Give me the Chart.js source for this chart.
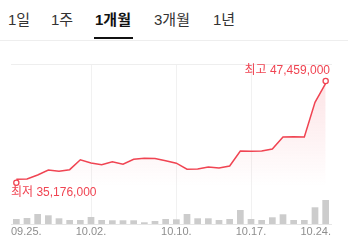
<!DOCTYPE html>
<html>
<head>
<meta charset="utf-8">
<script src="https://cdn.jsdelivr.net/npm/chart.js@4"></script>
<style>
    html, body { margin: 0; padding: 0; background: #fff; width: 348px; height: 242px; overflow: hidden;
        font-family: "Liberation Sans", "Noto Sans CJK KR", sans-serif; }
    #tabs { position: absolute; left: 0; top: 0; width: 348px; height: 40px; border-bottom: 1px solid #eeeeee; }
    .tab { position: absolute; top: 10px; font-size: 15px; line-height: 20px; color: #333; white-space: nowrap; }
    .tab.on { font-weight: bold; color: #111; }
    .tab.on:after { content: ''; position: absolute; left: -1px; right: -2px; top: 27px; height: 2px; background: #111; }
    #wrap { position: absolute; left: 0; top: 41px; width: 348px; height: 201px; }
</style>
</head>
<body>
<div id="tabs">
    <span class="tab" style="left:8px">1일</span>
    <span class="tab" style="left:51px">1주</span>
    <span class="tab on" style="left:95px">1개월</span>
    <span class="tab" style="left:154px">3개월</span>
    <span class="tab" style="left:213px">1년</span>
</div>
<div id="wrap"><canvas id="price_chart" width="348" height="201"></canvas></div>
<script>
    // daily data, 09.25. ~ 10.24.
    const dates = ['09.25.', '09.26.', '09.27.', '09.28.', '09.29.', '09.30.',
        '10.01.', '10.02.', '10.03.', '10.04.', '10.05.', '10.06.', '10.07.', '10.08.', '10.09.', '10.10.',
        '10.11.', '10.12.', '10.13.', '10.14.', '10.15.', '10.16.', '10.17.', '10.18.', '10.19.', '10.20.',
        '10.21.', '10.22.', '10.23.', '10.24.'];
    const closePrices = [35590000, 35620000, 36110000, 36710000, 36550000, 36750000,
        37950000, 37550000, 37350000, 37710000, 37400000, 38000000, 38120000, 38100000, 37830000, 37530000,
        36810000, 36840000, 37080000, 36950000, 37200000, 39000000, 38970000, 39000000, 39250000, 40700000,
        40730000, 40700000, 44890000, 47180000];
    const volumes = [50, 60, 100, 87, 57, 40,
        40, 70, 40, 37, 37, 37, 17, 30, 50, 47,
        100, 57, 57, 40, 50, 140, 50, 40, 67, 97,
        40, 40, 167, 240];
    const tickDates = ['09.25.', '10.02.', '10.10.', '10.17.', '10.24.'];

    // low / high markers
    const extremeNames = ['최저', '최고'];
    const extremeDates = ['09.25.', '10.24.'];
    const extremeValues = [35176000, 47459000];

    const priceMin = 30190000;
    const priceMax = 49510000;
    const volumeMax = 1600;

    const red = '#f04452';

    const labelPlugin = {
        id: 'labels',
        afterDraw(chart) {
            const ctx = chart.ctx;
            const area = chart.chartArea;
            const xs = chart.scales.x;
            ctx.save();
            ctx.textAlign = 'left';
            ctx.textBaseline = 'middle';

            // x tick labels, kept inside the plot
            ctx.font = '11px "Liberation Sans", "Noto Sans CJK KR"';
            ctx.fillStyle = '#8e8e8e';
            tickDates.forEach(d => {
                let px = xs.getPixelForValue(dates.indexOf(d));
                let w = ctx.measureText(d).width;
                let left = Math.min(Math.max(px - w / 2, area.left), area.right - w);
                ctx.fillText(d, left, area.bottom + 8);
            });

            // low / high text
            ctx.font = '12px "Liberation Sans", "Noto Sans CJK KR"';
            ctx.fillStyle = red;
            chart.getDatasetMeta(0).data.forEach((pt, i) => {
                let text = extremeNames[i] + ' ' + extremeValues[i].toLocaleString('en-US');
                let w = ctx.measureText(text).width;
                let left = Math.min(Math.max(pt.x - w / 2, area.left), area.right - w - 1);
                let y = extremeValues[i] === Math.min(...extremeValues) ? pt.y + 10 : pt.y - 10;
                ctx.fillText(text, left, y);
            });
            ctx.restore();
        }
    };

    let chartCanvas = document.getElementById('price_chart').getContext('2d');
    let chartObject = new Chart(chartCanvas, {
        type: 'bar',
        data: {
            labels: dates,
            datasets: [{
                type: 'line',
                label: 'extremes',
                data: extremeDates.map((d, i) => ({x: d, y: extremeValues[i]})),
                showLine: false,
                pointRadius: 2.6,
                pointBorderWidth: 1.3,
                pointBorderColor: red,
                pointBackgroundColor: '#fff',
                xAxisID: 'x',
                yAxisID: 'y',
            }, {
                type: 'line',
                label: 'price',
                data: closePrices,
                borderColor: red,
                borderWidth: 1.5,
                pointRadius: 0,
                tension: 0,
                fill: 'start',
                backgroundColor: function(c) {
                    const a = c.chart.chartArea;
                    if (!a) return 'transparent';
                    const g = c.chart.ctx.createLinearGradient(0, a.top + 15, 0, a.bottom - 38);
                    g.addColorStop(0, 'rgba(240, 68, 82, 0.15)');
                    g.addColorStop(1, 'rgba(240, 68, 82, 0)');
                    return g;
                },
                xAxisID: 'x',
                yAxisID: 'y',
            }, {
                label: 'volume',
                data: volumes,
                backgroundColor: '#cccccc',
                categoryPercentage: 1,
                barPercentage: 0.63,
                xAxisID: 'x',
                yAxisID: 'y1',
            }],
        },
        options: {
            responsive: false,
            animation: false,
            devicePixelRatio: 1,
            layout: { padding: { left: 11, right: 17, top: 23, bottom: 18 } },
            plugins: { legend: { display: false }, tooltip: { enabled: false } },
            scales: {
                x: {
                    type: 'category',
                    offset: true,
                    grid: {
                        offset: false,
                        drawTicks: false,
                        color: c => tickDates.slice(1, -1).includes(dates[c.index]) ? '#f1f1f1' : 'rgba(0,0,0,0)',
                    },
                    border: { color: '#e6e6e6', width: 1 },
                    ticks: { display: false, autoSkip: false },
                },
                xTop: {
                    type: 'category',
                    position: 'top',
                    grid: { display: false, drawTicks: false },
                    border: { color: '#eeeeee', width: 1 },
                    ticks: { display: false },
                },
                y: { display: false, min: priceMin, max: priceMax },
                y1: { display: false, min: 0, max: volumeMax },
            }
        },
        plugins: [labelPlugin]
    });
</script>
</body>
</html>
